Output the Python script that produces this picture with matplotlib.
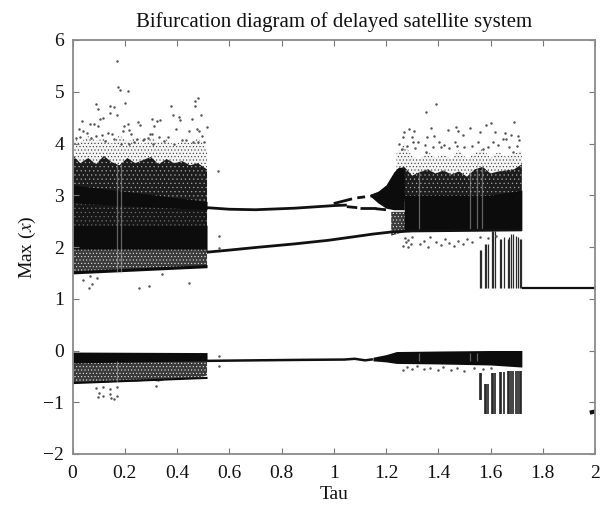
import matplotlib
matplotlib.use("Agg")
import matplotlib.pyplot as plt

plt.rcParams['font.family'] = ['Liberation Serif', 'DejaVu Serif']
plt.rcParams['hatch.linewidth'] = 0.4

title = "Bifurcation diagram of delayed satellite system"
xticks = [0, 0.2, 0.4, 0.6, 0.8, 1, 1.2, 1.4, 1.6, 1.8, 2]
xticklabels = ["0", "0.2", "0.4", "0.6", "0.8", "1", "1.2", "1.4", "1.6", "1.8", "2"]
yticks = [-2, -1, 0, 1, 2, 3, 4, 5, 6]
yticklabels = ["\u22122", "\u22121", "0", "1", "2", "3", "4", "5", "6"]

# chaotic regime, tau 0 .. 0.515, edges read along the band
edge_tau = [0.0, 0.03, 0.06, 0.09, 0.12, 0.15, 0.18, 0.21, 0.24, 0.27, 0.30, 0.33, 0.36, 0.39, 0.42, 0.45, 0.48, 0.515]
sparse_low = [3.6, 3.6, 3.6, 3.6, 3.6, 3.6, 3.6, 3.6, 3.6, 3.6, 3.6, 3.55, 3.55, 3.55, 3.55, 3.5, 3.5, 3.5]
sparse_high = [4.12, 4.02, 4.14, 4.05, 4.1, 4.0, 4.16, 4.04, 4.1, 3.98, 4.12, 4.02, 4.08, 3.96, 4.06, 4.0, 4.1, 3.9]
mid_low = [3.05, 3.04, 3.02, 3.0, 2.98, 2.97, 2.96, 2.95, 2.94, 2.93, 2.92, 2.91, 2.9, 2.89, 2.88, 2.87, 2.86, 2.85]
mid_high = [3.78, 3.62, 3.72, 3.6, 3.76, 3.64, 3.58, 3.72, 3.62, 3.68, 3.74, 3.6, 3.7, 3.62, 3.66, 3.58, 3.62, 3.5]
under_low = [1.5, 1.5, 1.51, 1.51, 1.52, 1.53, 1.53, 1.54, 1.55, 1.56, 1.56, 1.57, 1.58, 1.59, 1.59, 1.6, 1.61, 1.62]
under_high = [1.95] * 18
neg_mid_low = [-0.63, -0.63, -0.62, -0.62, -0.62, -0.61, -0.6, -0.6, -0.6, -0.59, -0.58, -0.6, -0.56, -0.55, -0.55, -0.54, -0.53, -0.48]
neg_mid_high = [-0.2] * 18

left_tau = [0.0, 0.515]
left_upper_core = [2.85, 2.72, 3.2, 2.88]
left_gap_mid = [2.35, 2.35, 2.85, 2.75]
left_core = [1.92, 1.88, 2.42, 2.42]
left_under_edge = [1.48, 1.6, 1.54, 1.66]
left_neg_core = [-0.24, -0.2, -0.03, -0.04]
left_neg_edge = [-0.64, -0.54, -0.6, -0.5]

# single-period branches between the chaotic regimes
upper_branch_tau = [0.515, 0.6, 0.7, 0.85, 1.0, 1.05]
upper_branch_y = [2.76, 2.73, 2.72, 2.75, 2.80, 2.81]
fork_top_tau = [[1.0, 1.07], [1.09, 1.12], [1.14, 1.17]]
fork_top_y = [[2.84, 2.93], [2.95, 2.97], [2.98, 3.02]]
fork_bot_tau = [[1.05, 1.09], [1.1, 1.16], [1.16, 1.2]]
fork_bot_y = [[2.78, 2.76], [2.76, 2.76], [2.74, 2.72]]
lower_branch_tau = [0.515, 0.6, 0.7, 0.85, 0.98, 1.08, 1.15, 1.22, 1.3, 1.72]
lower_branch_y = [1.9, 1.94, 1.99, 2.06, 2.13, 2.2, 2.25, 2.29, 2.31, 2.33]
neg_branch_tau = [0.515, 0.7, 0.9, 1.04, 1.08, 1.12, 1.15]
neg_branch_y = [-0.2, -0.19, -0.18, -0.175, -0.16, -0.19, -0.17]

# cone opening into the second chaotic regime
cone_tau = [1.14, 1.17, 1.2, 1.23, 1.25, 1.27]
cone_low = [2.98, 2.85, 2.75, 2.72, 2.72, 2.72]
cone_high = [3.02, 3.08, 3.2, 3.45, 3.55, 3.5]

# chaotic regime, tau 1.25 .. 1.72
right_tau = [1.24, 1.27, 1.3, 1.33, 1.36, 1.39, 1.42, 1.45, 1.48, 1.51, 1.54, 1.57, 1.6, 1.63, 1.66, 1.69, 1.72]
right_sparse_low = [3.4] * 17
right_sparse_high = [3.8, 4.0, 3.75, 3.7, 3.85, 3.72, 3.8, 3.7, 3.88, 3.7, 3.82, 3.9, 3.72, 3.84, 3.74, 3.8, 3.86]
right_mid_low = [2.85, 2.88, 2.9, 2.92, 2.95, 2.95, 2.95, 2.95, 2.95, 2.95, 2.95, 2.95, 2.95, 2.95, 2.95, 2.95, 2.95]
right_mid_high = [3.5, 3.55, 3.38, 3.45, 3.5, 3.42, 3.48, 3.4, 3.46, 3.36, 3.5, 3.55, 3.42, 3.46, 3.48, 3.5, 3.6]
core_tau = [1.27, 1.32, 1.4, 1.5, 1.6, 1.72]
core_low = [2.33, 2.32, 2.32, 2.32, 2.32, 2.32]
core_high = [3.0, 3.0, 3.0, 3.0, 3.0, 3.1]
wedge_tau = [1.22, 1.27, 1.33, 1.38]
wedge_low = [2.22, 2.29, 2.4, 2.55]
wedge_high = [2.68, 2.68, 2.62, 2.58]
neg_core_tau = [1.15, 1.2, 1.24, 1.4, 1.6, 1.72]
neg_core_low = [-0.2, -0.22, -0.25, -0.26, -0.28, -0.32]
neg_core_high = [-0.13, -0.08, -0.02, -0.01, 0.0, 0.0]

# flat branch at the right
flat_tau = [1.72, 2.0]
flat_y = [1.2, 1.2]
end_tau = [1.98, 2.0]
end_y = [-1.2, -1.18]

# vertical streaks below the second regime
streak_tau = [1.56, 1.565, 1.578, 1.584, 1.59, 1.606, 1.611, 1.617, 1.635, 1.642, 1.652,
              1.666, 1.672, 1.68, 1.688, 1.696, 1.704, 1.712, 1.718]
streak_up_low = [1.2, 1.2, 1.2, 1.2, 1.2, 1.2, 1.2, 1.2, 1.2, 1.2, 1.2,
                 1.2, 1.2, 1.2, 1.2, 1.2, 1.2, 1.2, 1.2]
streak_up_high = [1.95, 1.95, 2.05, 2.05, 2.05, 2.3, 2.3, 2.3, 2.15, 2.15, 2.2,
                  2.15, 2.2, 2.25, 2.25, 2.22, 2.2, 2.15, 2.15]
streak_lo_low = [-0.96, -0.96, -1.22, -1.22, -1.22, -1.22, -1.22, -1.22, -1.22, -1.22, -1.22,
                 -1.22, -1.22, -1.22, -1.22, -1.22, -1.22, -1.22, -1.22]
streak_lo_high = [-0.44, -0.44, -0.64, -0.64, -0.64, -0.44, -0.44, -0.44, -0.42, -0.42, -0.42,
                  -0.4, -0.4, -0.4, -0.4, -0.4, -0.4, -0.4, -0.4]

# pale vertical gaps inside the dense bands
gap_tau = [0.172, 0.185, 1.325, 1.52, 1.55, 1.568]
gap_low = [1.5, 1.5, 2.35, 2.35, 2.35, 2.35]
gap_high = [3.6, 3.6, 3.5, 3.5, 3.6, 3.6]
neg_gap_tau = [0.172, 1.325, 1.52, 1.55]
neg_gap_low = [-0.6, -0.2, -0.2, -0.2]
neg_gap_high = [-0.2, -0.05, -0.05, -0.05]

# isolated iterates
dots_tau = [.17, .176, .182, .212, .20, .09, .097, .144, .157, .144, .172, .115, .105, .038,
            .377, .385, .409, .412, .458, .47, .482, .47, .49, .516, .305, .336, .323, .313,
            .25, .258, .397, .445, .475, .483, .495, .557, .067, .083, .097, .023, .042, .055,
            .09, .112, .135, .153, .198, .212, .195, .218, .223, .295, .304, .29, .365, .33,
            .217, .246, .275, .435, .46, .48, .012, .03, .07, .125, .16, .185, .235, .27,
            .31, .35, .39, .42, .505, .042, .063, .076, .095, .067,
            .253, .291, .445, .342, .56, .56, .09, .097, .103, .118, .115, .144, .144, .147,
            .157, .172, .17, .32, .56, .56,
            1.393, 1.353, 1.689, 1.6, 1.583, 1.267, 1.287, 1.309, 1.372, 1.436, 1.468, 1.475,
            1.52, 1.561, 1.616, 1.654, 1.68, 1.705, 1.494, 1.264, 1.298, 1.357, 1.385, 1.302,
            1.324, 1.251, 1.404, 1.423, 1.465, 1.5, 1.551, 1.609, 1.647, 1.66, 1.711, 1.353,
            1.411, 1.59, 1.686, 1.28, 1.35, 1.44, 1.53, 1.63, 1.7, 1.26, 1.31, 1.38, 1.47,
            1.57, 1.67,
            1.265, 1.275, 1.285, 1.295, 1.272, 1.283, 1.33, 1.345, 1.36, 1.39, 1.41, 1.425,
            1.44, 1.46, 1.475, 1.495, 1.51, 1.53, 1.56, 1.59, 1.62, 1.3, 1.37,
            1.265, 1.28, 1.3, 1.32, 1.345, 1.37, 1.4, 1.42, 1.45, 1.47, 1.5, 1.535, 1.57, 1.6]
dots_y = [5.6, 5.09, 5.03, 5.01, 4.79, 4.77, 4.66, 4.73, 4.70, 4.58, 4.56, 4.5, 4.48, 4.44,
          4.72, 4.55, 4.52, 4.45, 4.47, 4.83, 4.88, 4.73, 4.55, 4.32, 4.48, 4.45, 4.43, 4.33,
          4.42, 4.35, 4.28, 4.24, 4.28, 4.25, 4.15, 3.47, 4.37, 4.37, 4.34, 4.28, 4.25, 4.2,
          4.15, 4.17, 4.2, 4.19, 4.34, 4.37, 4.24, 4.27, 4.19, 4.19, 4.19, 4.11, 4.13, 4.13,
          4.0, 4.08, 4.08, 4.06, 4.03, 4.03, 4.1, 4.12, 4.1, 4.05, 4.08, 4.0, 4.02, 4.06,
          4.0, 4.05, 4.0, 4.07, 4.03, 1.36, 1.21, 1.28, 1.4, 1.44,
          1.21, 1.25, 1.3, 1.48, 2.22, 1.98, -0.72, -0.89, -0.83, -0.87, -0.7, -0.75, -0.84,
          -0.92, -0.94, -0.87, -0.71, -0.69, -0.1, -0.3,
          4.76, 4.6, 4.41, 4.39, 4.36, 4.22, 4.28, 4.25, 4.29, 4.26, 4.31, 4.24,
          4.3, 4.22, 4.23, 4.2, 4.17, 4.14, 4.17, 4.13, 4.13, 4.13, 4.15, 4.03,
          4.03, 4.0, 4.03, 3.97, 4.03, 3.94, 4.03, 4.03, 4.08, 4.08, 4.07, 3.84,
          3.94, 3.94, 3.84, 3.95, 3.98, 3.92, 3.96, 3.98, 3.95, 3.9, 3.92, 3.93, 3.95,
          3.9, 3.93,
          2.02, 2.1, 2.0, 2.06, 2.18, 2.14, 2.05, 2.12, 2.0, 2.1, 2.03, 2.15,
          2.08, 2.02, 2.12, 2.06, 2.15, 2.1, 2.2, 2.18, 2.22, 2.2, 2.2,
          -0.38, -0.32, -0.35, -0.3, -0.36, -0.33, -0.38, -0.31, -0.37, -0.34, -0.4, -0.33, -0.36, -0.34]

fig = plt.figure(figsize=(6.07, 5.09), dpi=100)
ax = fig.add_axes([72.5 / 607, 1 - 454 / 509, (595 - 72.5) / 607, (454 - 40) / 509])

BLACK = "#0c0c0c"
SPARSE = dict(facecolor="#f4f4f4", edgecolor="#333333", hatch=".....", linewidth=0)
MID = dict(facecolor="#1c1c1c", edgecolor="#a8a8a8", hatch="....", linewidth=0)
DENSE_MID = dict(facecolor="#161616", edgecolor="#707070", hatch="....", linewidth=0)
SPECKLE = dict(facecolor="#3a3a3a", edgecolor="#e8e8e8", hatch=".....", linewidth=0)


def left_band(edges, **style):
    ax.fill_between(left_tau, edges[:2], edges[2:], **style)


ax.fill_between(edge_tau, sparse_low, sparse_high, **SPARSE)
ax.fill_between(edge_tau, mid_low, mid_high, **MID)
left_band(left_gap_mid, **DENSE_MID)
left_band(left_upper_core, color=BLACK, lw=0)
left_band(left_core, color=BLACK, lw=0)
ax.fill_between(edge_tau, under_low, under_high, **SPECKLE)
left_band(left_under_edge, color=BLACK, lw=0)
ax.fill_between(edge_tau, neg_mid_low, neg_mid_high, **SPECKLE)
left_band(left_neg_edge, color=BLACK, lw=0)
left_band(left_neg_core, color=BLACK, lw=0)

ax.fill_between(right_tau, right_sparse_low, right_sparse_high, **SPARSE)
ax.fill_between(right_tau, right_mid_low, right_mid_high, **MID)
ax.fill_between(wedge_tau, wedge_low, wedge_high, **SPECKLE)
ax.fill_between(cone_tau, cone_low, cone_high, color=BLACK, lw=0)
ax.fill_between(core_tau, core_low, core_high, color=BLACK, lw=0)
ax.fill_between(neg_core_tau, neg_core_low, neg_core_high, color=BLACK, lw=0)

ax.vlines(gap_tau, gap_low, gap_high, color="#b8b8b8", lw=0.9, alpha=0.5)
ax.vlines(neg_gap_tau, neg_gap_low, neg_gap_high, color="#b8b8b8", lw=0.9, alpha=0.5)
ax.vlines(streak_tau, streak_up_low, streak_up_high, color="#2a2a2a", lw=0.9)
ax.vlines(streak_tau, streak_lo_low, streak_lo_high, color="#222222", lw=1.2)

line_style = dict(color="#111111", solid_capstyle="butt")
ax.plot(upper_branch_tau, upper_branch_y, lw=2.0, **line_style)
ax.plot(lower_branch_tau, lower_branch_y, lw=2.0, **line_style)
ax.plot(neg_branch_tau, neg_branch_y, lw=1.8, **line_style)
for xs, ys in zip(fork_top_tau, fork_top_y):
    ax.plot(xs, ys, lw=2.0, **line_style)
for xs, ys in zip(fork_bot_tau, fork_bot_y):
    ax.plot(xs, ys, lw=2.0, **line_style)
ax.plot(flat_tau, flat_y, lw=1.6, **line_style)
ax.plot(end_tau, end_y, lw=3.0, **line_style)

ax.scatter(dots_tau, dots_y, s=3.2, color="#555555", linewidths=0, zorder=3)

ax.set_xlim(0, 2)
ax.set_ylim(-2, 6)
ax.set_xticks(xticks, xticklabels)
ax.set_yticks(yticks, yticklabels)
ax.tick_params(direction="in", top=True, right=True, length=4, width=0.8,
               color="#777777", labelsize=14, labelcolor="#111111")
ax.tick_params(axis="x", pad=8)
ax.tick_params(axis="y", pad=6)
for spine in ax.spines.values():
    spine.set_color("#8a8a8a")
    spine.set_linewidth(1.3)
ax.set_xlabel("Tau", fontsize=14, labelpad=3, color="#111111")
ax.set_ylabel("Max ($\\mathit{x}$)", fontsize=14, labelpad=4, color="#111111",
              math_fontfamily="stix")
ax.set_title(title, fontsize=15, pad=9, color="#111111")

fig.savefig("out.png", dpi=100)
